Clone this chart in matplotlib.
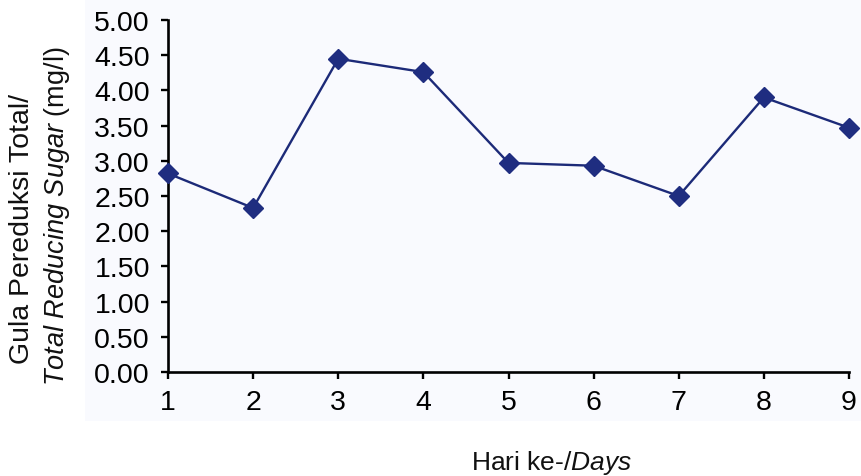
import matplotlib.pyplot as plt
from matplotlib.patches import Rectangle

plt.rcParams['font.family'] = ['Liberation Sans', 'DejaVu Sans']
plt.rcParams['mathtext.fontset'] = 'custom'
plt.rcParams['mathtext.rm'] = 'Liberation Sans'
plt.rcParams['mathtext.it'] = 'Liberation Sans:italic'

# reducing sugar per day
days = [1, 2, 3, 4, 5, 6, 7, 8, 9]
sugar = [2.82, 2.33, 4.45, 4.26, 2.97, 2.93, 2.50, 3.90, 3.47]
y_ticks = [0.0, 0.5, 1.0, 1.5, 2.0, 2.5, 3.0, 3.5, 4.0, 4.5, 5.0]

W, H = 861, 477
fig = plt.figure(figsize=(W / 100, H / 100), dpi=100, facecolor='white')
fig.patches.append(Rectangle((85 / W, 1 - 422 / H), 1 - 85 / W, 422 / H,
                             transform=fig.transFigure, facecolor='#f9fafe',
                             edgecolor='none', zorder=-5))

ax = fig.add_axes([168 / W, 1 - 373 / H, (849 - 168) / W, (373 - 21) / H])
ax.set_facecolor('none')
ax.set_zorder(2)

ax.plot(days, sugar, color='#1c2a78', linewidth=1.7, marker='D',
        markersize=10, markerfacecolor='#1f2d80', markeredgecolor='#1f2d80',
        clip_on=False, zorder=3)

ax.set_xlim(1, 9)
ax.set_ylim(0, 5)
ax.set_xticks(days)
ax.set_yticks(y_ticks)
ax.set_yticklabels([f'{v:.2f}' for v in y_ticks])

for side in ['top', 'right']:
    ax.spines[side].set_visible(False)
for side in ['left', 'bottom']:
    ax.spines[side].set_linewidth(1.9)
    ax.spines[side].set_color('black')

ax.tick_params(axis='both', direction='out', length=5, width=1.7,
               labelsize=20.5, colors='black')
ax.tick_params(axis='y', pad=8)
ax.tick_params(axis='x', pad=7)

fig.text(22 / W, 1 - 229 / H, 'Gula Pereduksi Total/', rotation=90,
         ha='center', va='center', fontsize=20.5, color='#111111')
fig.text(57 / W, 1 - 216 / H, r'$\it{Total\ Reducing\ Sugar}$ (mg/l)',
         rotation=90, ha='center', va='center', fontsize=19.5, color='#111111')
fig.text(552 / W, 1 - 463 / H, r'Hari ke-/$\it{Days}$', ha='center',
         va='center', fontsize=19, color='#111111')

fig.savefig('out.png', dpi=100, facecolor=fig.get_facecolor())
